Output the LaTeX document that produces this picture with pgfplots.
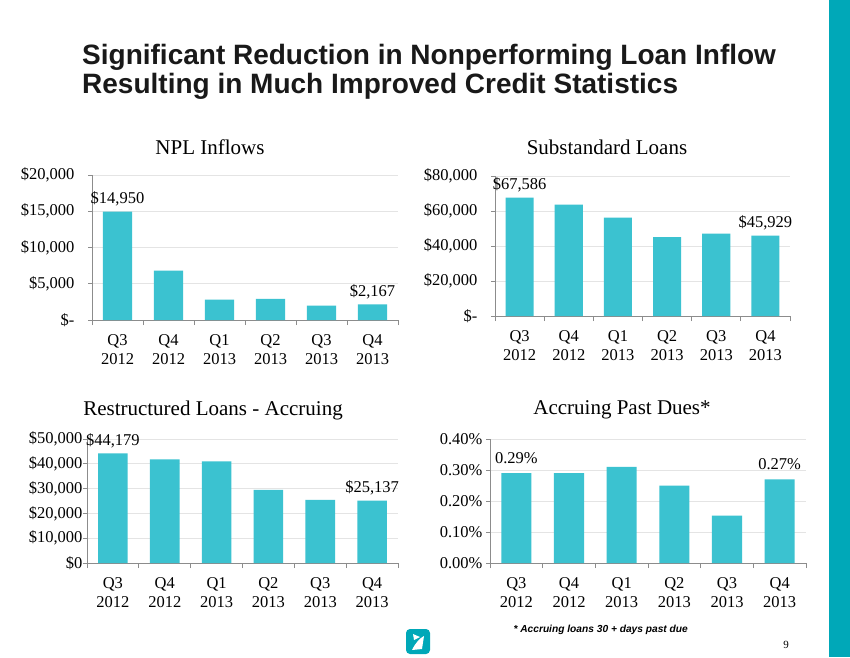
\documentclass[border=0pt]{standalone}
\usepackage{pgfplots}
\pgfplotsset{compat=1.18}
\usepackage{fontspec}
\setmainfont{Liberation Serif}
\newfontfamily\arialfont{Liberation Sans}
\definecolor{barc}{RGB}{59,194,208}
\definecolor{stripc}{RGB}{0,168,184}
\definecolor{gridc}{RGB}{228,228,228}
\definecolor{axc}{RGB}{140,140,140}
\newcommand{\lblfont}{\fontsize{16.5}{19}\selectfont}
\pgfplotsset{
 mybar/.style={
  scale only axis, anchor=south west,
  ybar, bar width=0.57, xmin=-0.5, xmax=5.5, ymin=0,
  scaled y ticks=false,
  axis x line*=bottom, axis y line*=left,
  axis line style={-, axc, line width=0.8pt},
  xtick={0,...,5},
  xticklabels={{Q3\\2012},{Q4\\2012},{Q1\\2013},{Q2\\2013},{Q3\\2013},{Q4\\2013}},
  xticklabel style={align=center, font=\lblfont, yshift=-7pt},
  yticklabel style={font=\lblfont},
  minor xtick={-0.5,0.5,...,5.5},
  major x tick style={draw=none},
  tick align=outside,
  major tick length=4pt, minor tick length=5pt,
  tick style={axc, line width=0.8pt},
  ymajorgrids, grid style={gridc, line width=0.8pt},
  nodes near coords, point meta=explicit symbolic,
  every node near coord/.append style={font=\lblfont, black, yshift=2pt},
  clip=false,
 },
 mybars/.style={fill=barc, draw=none},
}
\begin{document}
\begin{tikzpicture}
\fill[white] (0pt,0pt) rectangle (850pt,-657pt);
\fill[stripc] (829pt,0pt) rectangle (850pt,-657pt);
\node[anchor=base west, inner sep=0pt, font=\arialfont\bfseries\fontsize{28}{32}\selectfont, text=black!90] at (82pt,-64pt) {Significant Reduction in Nonperforming Loan Inflow};
\node[anchor=base west, inner sep=0pt, font=\arialfont\bfseries\fontsize{28}{32}\selectfont, text=black!90] at (82pt,-93pt) {Resulting in Much Improved Credit Statistics};

\node[font=\fontsize{21}{24}\selectfont] at (210pt,-147pt) {NPL Inflows};
\node[font=\fontsize{21}{24}\selectfont] at (607pt,-147pt) {Substandard Loans};
\node[font=\fontsize{21}{24}\selectfont] at (213pt,-410pt) {Restructured Loans - Accruing};
\node[font=\fontsize{21}{24}\selectfont] at (622pt,-410pt) {Accruing Past Dues*};

% NPL Inflows
\begin{axis}[mybar, at={(92pt,-320pt)}, width=306pt, height=145pt, ymax=20000,
  ytick={0,5000,10000,15000,20000},
  yticklabels={{\$-},{\$5,000},{\$10,000},{\$15,000},{\$20,000}},
  yticklabel style={xshift=-10pt}]
\addplot[mybars] coordinates {(0,14950) [\$14,950] (1,6800) [] (2,2800) [] (3,2900) [] (4,2000) [] (5,2167) [\$2,167]};
\end{axis}

% Substandard Loans
\begin{axis}[mybar, at={(495pt,-316pt)}, width=295pt, height=140pt, ymax=80000,
  ytick={0,20000,40000,60000,80000},
  yticklabels={{\$-},{\$20,000},{\$40,000},{\$60,000},{\$80,000}},
  yticklabel style={xshift=-10pt}]
\addplot[mybars] coordinates {(0,67586) [\$67,586] (1,63600) [] (2,56200) [] (3,45100) [] (4,47100) [] (5,45929) [\$45,929]};
\end{axis}

% Restructured Loans
\begin{axis}[mybar, at={(87pt,-563pt)}, width=311pt, height=124pt, ymax=50000,
  ytick={0,10000,20000,30000,40000,50000},
  yticklabels={{\$0},{\$10,000},{\$20,000},{\$30,000},{\$40,000},{\$50,000}},
  yticklabel style={xshift=3pt}]
\addplot[mybars] coordinates {(0,44179) [\$44,179] (1,41800) [] (2,41000) [] (3,29500) [] (4,25500) [] (5,25137) [\$25,137]};
\end{axis}

% Accruing Past Dues
\begin{axis}[mybar, at={(490pt,-563pt)}, width=316pt, height=124pt, ymax=0.40,
  ytick={0,0.1,0.2,0.3,0.4},
  yticklabels={{0.00\%},{0.10\%},{0.20\%},{0.30\%},{0.40\%}},
  every node near coord/.append style={yshift=4pt}]
\addplot[mybars] coordinates {(0,0.29) [0.29\%] (1,0.29) [] (2,0.31) [] (3,0.25) [] (4,0.153) [] (5,0.27) [0.27\%]};
\end{axis}

\node[anchor=west, font=\arialfont\bfseries\itshape\fontsize{10.2}{12}\selectfont] at (510pt,-630pt) {* Accruing loans 30 + days past due};
\node[font=\fontsize{11}{12}\selectfont] at (786pt,-645pt) {9};

% logo
\fill[stripc, rounded corners=4pt] (406pt,-629pt) rectangle (430pt,-654pt);
\fill[white] (412pt,-650pt) .. controls (416pt,-642pt) and (420pt,-638pt) .. (424pt,-636pt) -- (422pt,-649pt) -- cycle;
\fill[white] (413pt,-634pt) -- (420pt,-637pt) -- (414pt,-640pt) -- cycle;
\end{tikzpicture}
\end{document}
